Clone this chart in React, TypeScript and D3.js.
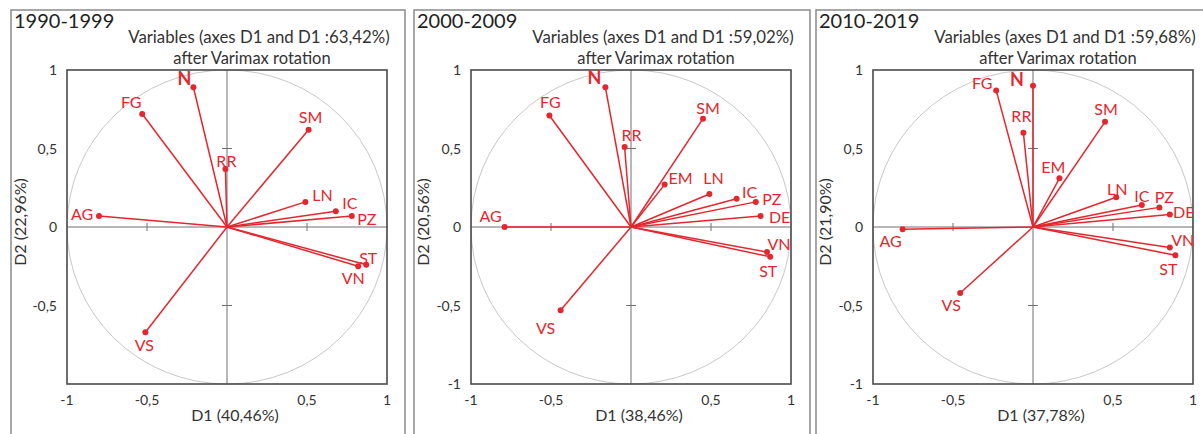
import React from "react";
import * as d3 from "d3";

// ---------- data ----------
const periods = ["1990-1999", "2000-2009", "2010-2019"];
const totalPct = ["63,42%", "59,02%", "59,68%"];
const d1Pct = ["40,46%", "38,46%", "37,78%"];
const d2Pct = ["22,96%", "20,56%", "21,90%"];

const vars1990 = ["N", "FG", "SM", "RR", "LN", "IC", "PZ", "AG", "ST", "VN", "VS"];
const d1_1990 = [-0.21, -0.53, 0.51, -0.01, 0.49, 0.68, 0.78, -0.8, 0.87, 0.82, -0.51];
const d2_1990 = [0.89, 0.72, 0.62, 0.37, 0.16, 0.1, 0.07, 0.07, -0.24, -0.25, -0.67];

const vars2000 = ["N", "FG", "SM", "RR", "EM", "LN", "IC", "PZ", "DE", "AG", "VN", "ST", "VS"];
const d1_2000 = [-0.16, -0.51, 0.45, -0.04, 0.21, 0.49, 0.66, 0.78, 0.81, -0.79, 0.85, 0.87, -0.44];
const d2_2000 = [0.89, 0.71, 0.69, 0.51, 0.27, 0.21, 0.18, 0.16, 0.07, 0.0, -0.16, -0.19, -0.53];

const vars2010 = ["N", "FG", "RR", "SM", "EM", "LN", "IC", "PZ", "DE", "AG", "VN", "ST", "VS"];
const d1_2010 = [0.0, -0.23, -0.06, 0.45, 0.165, 0.52, 0.68, 0.79, 0.855, -0.815, 0.855, 0.89, -0.455];
const d2_2010 = [0.9, 0.87, 0.6, 0.67, 0.31, 0.19, 0.14, 0.125, 0.08, -0.015, -0.13, -0.18, -0.42];

const yTicks1990 = [1, 0.5, 0, -0.5];
const yTicksLater = [1, 0.5, 0, -0.5, -1];
const xTicks = [-1, -0.5, 0.5, 1];

// ---------- label placement (pixels, relative to the point) ----------
const labelOffsets: Record<string, [number, number]>[] = [
  { N: [-9, -2], FG: [-11, -6], SM: [2, -7], RR: [1, -2], LN: [17, -1], IC: [14, -2], PZ: [15, 9], AG: [-17, 4], ST: [2, -1], VN: [-5, 18], VS: [-1, 19] },
  { N: [-11, -3], FG: [1, -8], SM: [5, -5], RR: [7, -6], EM: [16, -1], LN: [4, -10], IC: [13, -1], PZ: [16, 3], DE: [19, 7], AG: [-14, -5], VN: [12, -2], ST: [-2, 20], VS: [-15, 24] },
  { N: [-16, 0], FG: [-14, -1], RR: [-2, -11], SM: [1, -7], EM: [-6, -5], LN: [1, -2], IC: [0, -3], PZ: [5, -4], DE: [14, 4], AG: [-12, 18], VN: [13, -1], ST: [-7, 20], VS: [-9, 18] },
];

const panelsData = [
  { vars: vars1990, d1: d1_1990, d2: d2_1990, yTicks: yTicks1990 },
  { vars: vars2000, d1: d1_2000, d2: d2_2000, yTicks: yTicksLater },
  { vars: vars2010, d1: d1_2010, d2: d2_2010, yTicks: yTicksLater },
];

// ---------- layout ----------
const W = 1203;
const H = 434;
const frameLeft = [11, 414, 816];
const frameRight = [405, 810, 1215];
const boxLeft = [67, 471, 873];
const boxW = 320;
const boxTop = 70;
const boxBottom = 384;
const RED = "#e5262e";
const FONT = "Lato, 'Open Sans', sans-serif";

const fmt = (v: number) => {
  if (v === 0) return "0";
  return String(v).replace(".", ",");
};

function Panel({ i }: { i: number }) {
  const p = panelsData[i];
  const x = d3.scaleLinear().domain([-1, 1]).range([boxLeft[i], boxLeft[i] + boxW]);
  const y = d3.scaleLinear().domain([-1, 1]).range([boxBottom, boxTop]);
  const cx = x(0);
  const cy = y(0);
  const rx = x(1) - x(0);
  const ry = y(0) - y(1);
  const clipId = `clip-${i}`;
  const offs = labelOffsets[i];
  const fl = frameLeft[i];

  return (
    <g>
      <defs>
        <clipPath id={clipId}>
          <rect x={x(-1)} y={y(1)} width={x(1) - x(-1)} height={y(-1) - y(1)} />
        </clipPath>
      </defs>
      {/* outer frame */}
      <rect x={fl} y={10} width={frameRight[i] - fl} height={H} fill="none" stroke="#8a8a8a" strokeWidth={1.5} />
      {/* titles */}
      <text x={fl + 3} y={28} fontFamily={FONT} fontSize={20} fill="#222">{periods[i]}</text>
      <text x={cx + 32} y={43} textAnchor="middle" fontFamily={FONT} fontSize={16.8} fill="#333">
        {`Variables (axes D1 and D1 :${totalPct[i]})`}
      </text>
      <text x={cx + 25} y={64} textAnchor="middle" fontFamily={FONT} fontSize={16.5} fill="#333">
        after Varimax rotation
      </text>
      {/* unit circle */}
      <ellipse cx={cx} cy={cy} rx={rx} ry={ry} fill="none" stroke="#c8c8c8" strokeWidth={1} />
      {/* axes through zero */}
      <line x1={x(-1)} x2={x(1)} y1={cy} y2={cy} stroke="#707070" strokeWidth={1} />
      <line x1={cx} x2={cx} y1={y(1)} y2={y(-1)} stroke="#707070" strokeWidth={1} />
      {[-0.5, 0.5].map((t) => (
        <line key={`xt${t}`} x1={x(t)} x2={x(t)} y1={cy - 4} y2={cy + 4} stroke="#707070" strokeWidth={1} />
      ))}
      {[-0.5, 0.5].map((t) => (
        <line key={`yt${t}`} x1={cx - 5} x2={cx + 5} y1={y(t)} y2={y(t)} stroke="#707070" strokeWidth={1} />
      ))}
      {/* box */}
      <rect x={x(-1)} y={y(1)} width={x(1) - x(-1)} height={y(-1) - y(1)} fill="none" stroke="#4a4a4a" strokeWidth={1.6} />
      {/* tick labels */}
      {p.yTicks.map((t) => (
        <text key={`yl${t}`} x={x(-1) - 10} y={y(t) + 5} textAnchor="end" fontFamily={FONT} fontSize={14} fill="#333">
          {fmt(t)}
        </text>
      ))}
      {xTicks.map((t) => (
        <text key={`xl${t}`} x={x(t)} y={405} textAnchor="middle" fontFamily={FONT} fontSize={14} fill="#333">
          {fmt(t)}
        </text>
      ))}
      {/* axis titles */}
      <text x={cx + 8} y={421} textAnchor="middle" fontFamily={FONT} fontSize={16} fill="#333">
        {`D1 (${d1Pct[i]})`}
      </text>
      <text
        transform={`translate(${fl + 15},${cy - 5}) rotate(-90)`}
        textAnchor="middle"
        fontFamily={FONT}
        fontSize={16}
        fill="#333"
      >
        {`D2 (${d2Pct[i]})`}
      </text>
      {/* vectors */}
      <g clipPath={`url(#${clipId})`}>
        {p.vars.map((v, k) => (
          <line key={`v${v}`} x1={cx} y1={cy} x2={x(p.d1[k])} y2={y(p.d2[k])} stroke={RED} strokeWidth={1.5} />
        ))}
        {p.vars.map((v, k) => (
          <circle key={`c${v}`} cx={x(p.d1[k])} cy={y(p.d2[k])} r={3} fill={RED} />
        ))}
        {p.vars.map((v, k) => {
          const o = offs[v] || [0, -6];
          const big = v === "N";
          return (
            <text
              key={`t${v}`}
              x={x(p.d1[k]) + o[0]}
              y={y(p.d2[k]) + o[1]}
              textAnchor="middle"
              fontFamily={FONT}
              fontSize={big ? 18 : 16}
              fontWeight={big ? 700 : 400}
              fill={RED}
            >
              {v}
            </text>
          );
        })}
      </g>
    </g>
  );
}

export default function App() {
  return (
    <svg
      width={W}
      height={H}
      viewBox={`0 0 ${W} ${H}`}
      style={{ position: "absolute", left: 0, top: 0, background: "#fff" }}
    >
      <rect x={0} y={0} width={W} height={H} fill="#fff" />
      {[0, 1, 2].map((i) => (
        <Panel key={i} i={i} />
      ))}
    </svg>
  );
}
